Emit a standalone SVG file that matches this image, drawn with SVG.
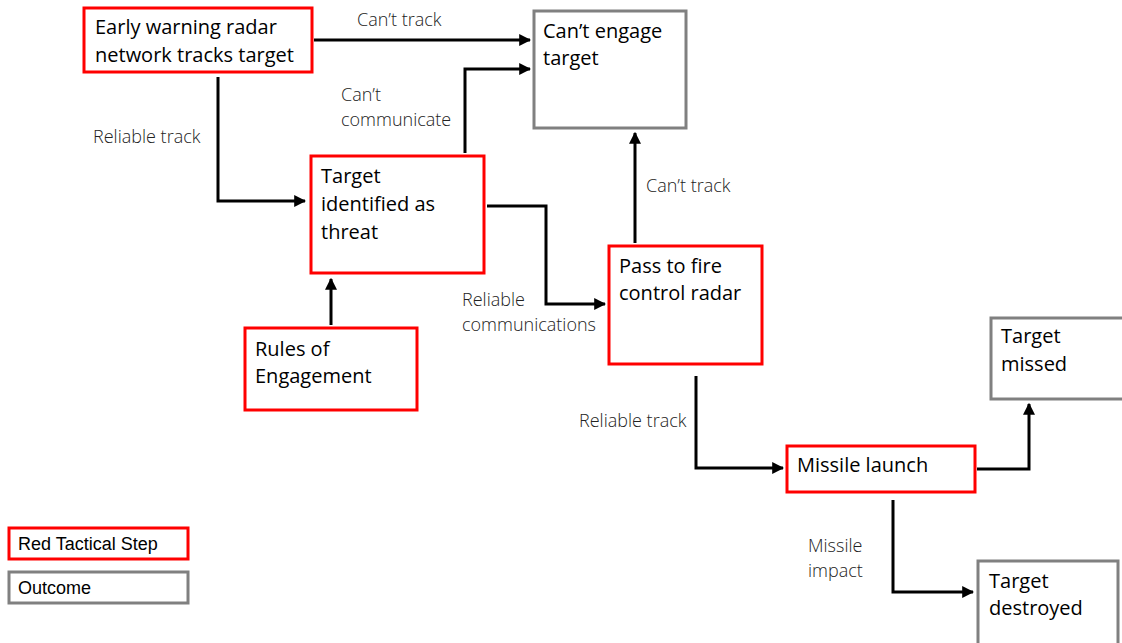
<svg xmlns="http://www.w3.org/2000/svg" width="1122" height="643" viewBox="0 0 1122 643">
  <defs>
    <marker id="arrow" viewBox="0 0 10 10" refX="9" refY="5" markerWidth="4" markerHeight="4" markerUnits="strokeWidth" orient="auto">
      <path d="M0,0 L10,5 L0,10 z" fill="#000"/>
    </marker>
    <style>
      .step { fill: #fff; stroke: #ff0000; stroke-width: 3; }
      .outcome { fill: #fff; stroke: #808080; stroke-width: 3; }
      .node-text { font-family: "Open Sans", "Liberation Sans", sans-serif; font-size: 20px; fill: #000; }
      .legend-text { font-family: "Liberation Sans", Arial, sans-serif; font-size: 18px; fill: #000; }
      .label { font-family: "Open Sans", "Liberation Sans", sans-serif; font-size: 18px; font-weight: 300; fill: #222; }
      .conn { fill: none; stroke: #000; stroke-width: 3; marker-end: url(#arrow); }
    </style>
  </defs>
  <rect width="1122" height="643" fill="#fff"/>

  <g id="connectors">
    <path class="conn" d="M314,40 H530"/>
    <path class="conn" d="M465,153 V69 H530"/>
    <path class="conn" d="M218,77 V201 H305"/>
    <path class="conn" d="M331,325 V279"/>
    <path class="conn" d="M487,206 H546 V304 H605"/>
    <path class="conn" d="M635,243 V133"/>
    <path class="conn" d="M696,376 V468 H783"/>
    <path class="conn" d="M977,469 H1029 V404"/>
    <path class="conn" d="M893,500 V592 H973"/>
    <text class="label" x="357" y="26">Can’t track</text>
    <text class="label" x="341" y="101">Can’t</text>
    <text class="label" x="341" y="126">communicate</text>
    <text class="label" x="93" y="143">Reliable track</text>
    <text class="label" x="462" y="306">Reliable</text>
    <text class="label" x="462" y="331">communications</text>
    <text class="label" x="646" y="192">Can’t track</text>
    <text class="label" x="579" y="427">Reliable track</text>
    <text class="label" x="808" y="552">Missile</text>
    <text class="label" x="808" y="577">impact</text>
  </g>

  <g id="early-warning">
    <rect class="step" x="84" y="8" width="228" height="64"/>
    <text class="node-text" x="95" y="34">Early warning radar</text>
    <text class="node-text" x="95" y="62">network tracks target</text>
  </g>
  <g id="cant-engage">
    <rect class="outcome" x="534" y="11" width="152" height="117"/>
    <text class="node-text" x="543" y="38">Can’t engage</text>
    <text class="node-text" x="543" y="65">target</text>
  </g>
  <g id="target-identified">
    <rect class="step" x="311" y="156" width="173" height="117"/>
    <text class="node-text" x="321" y="183">Target</text>
    <text class="node-text" x="321" y="211">identified as</text>
    <text class="node-text" x="321" y="239">threat</text>
  </g>
  <g id="rules-of-engagement">
    <rect class="step" x="245" y="328" width="172" height="82"/>
    <text class="node-text" x="255" y="356">Rules of</text>
    <text class="node-text" x="255" y="383">Engagement</text>
  </g>
  <g id="fire-control">
    <rect class="step" x="609" y="246" width="153" height="118"/>
    <text class="node-text" x="619" y="273">Pass to fire</text>
    <text class="node-text" x="619" y="300">control radar</text>
  </g>
  <g id="target-missed">
    <rect class="outcome" x="991" y="318" width="140" height="81"/>
    <text class="node-text" x="1001" y="343">Target</text>
    <text class="node-text" x="1001" y="371">missed</text>
  </g>
  <g id="missile-launch">
    <rect class="step" x="787" y="446" width="188" height="46"/>
    <text class="node-text" x="797" y="472">Missile launch</text>
  </g>
  <g id="target-destroyed">
    <rect class="outcome" x="978" y="561" width="140" height="90"/>
    <text class="node-text" x="989" y="588">Target</text>
    <text class="node-text" x="989" y="615">destroyed</text>
  </g>

  <g id="legend">
    <rect class="step" x="9" y="528" width="179" height="31"/>
    <text class="legend-text" x="18" y="550">Red Tactical Step</text>
    <rect class="outcome" x="9" y="572" width="179" height="31"/>
    <text class="legend-text" x="18" y="594">Outcome</text>
  </g>
</svg>
